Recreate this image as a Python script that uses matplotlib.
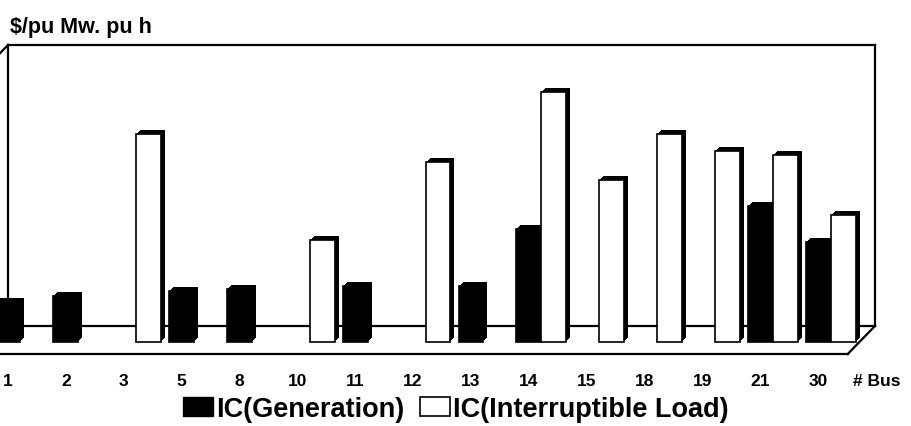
import matplotlib.pyplot as plt
import matplotlib.transforms as mtransforms
from matplotlib.patches import Patch

plt.rcParams['font.family'] = ['Liberation Sans', 'DejaVu Sans']
plt.rcParams['font.weight'] = 'bold'

# data (arbitrary $/pu Mw. pu h units)
buses = ['1', '2', '3', '5', '8', '10', '11', '12', '13', '14', '15', '18', '19', '21', '30']
ic_gen = [4.0, 4.6, 0, 5.1, 5.3, 0, 5.6, 0, 5.6, 11.3, 0, 0, 0, 13.6, 10.0]
ic_load = [0, 0, 20.8, 0, 0, 10.2, 0, 18.0, 0, 25.0, 16.2, 20.8, 19.1, 18.7, 12.7]

bar_w = 0.43
# pseudo 3d box
wall_top = 29.7
floor_front = -1.2
depth_x, depth_y = 0.47, 2.8
wall_left, wall_right = 0.0, 14.98

fig = plt.figure(figsize=(9.12, 4.27), dpi=100)
ax = fig.add_axes([0, 0, 1, 1])
ax.set_xlim(-0.138, 15.62)
ax.set_ylim(-8.4, 34.3)
ax.axis('off')

lw = 1.6
back = floor_front + depth_y
ax.plot([wall_left, wall_right], [wall_top, wall_top], color='black', lw=lw)
ax.plot([wall_right, wall_right], [wall_top, back], color='black', lw=lw)
ax.plot([wall_left, wall_left], [wall_top, back], color='black', lw=lw)
ax.plot([wall_left, wall_right], [back, back], color='black', lw=lw)
ax.plot([wall_left - depth_x, wall_right - depth_x], [floor_front, floor_front], color='black', lw=lw)
ax.plot([wall_right - depth_x, wall_right], [floor_front, back], color='black', lw=lw)
ax.plot([wall_left - depth_x, wall_left], [wall_top - depth_y, wall_top], color='black', lw=lw)

xg = [i for i, v in enumerate(ic_gen) if v > 0]
hg = [v for v in ic_gen if v > 0]
xl = [i + bar_w for i, v in enumerate(ic_load) if v > 0]
hl = [v for v in ic_load if v > 0]

# extruded depth: black copies stepped up/right
for d in [1, 2, 3, 4]:
    shift = mtransforms.offset_copy(ax.transData, fig=fig, x=d, y=d, units='dots')
    for xs, hs in [(xg, hg), (xl, hl)]:
        sh = ax.bar(xs, hs, width=bar_w, color='black', zorder=3)
        for p in sh:
            p.set_transform(shift)

ax.bar(xg, hg, width=bar_w, color='black', edgecolor='black', lw=1.2, zorder=4)
ax.bar(xl, hl, width=bar_w, color='white', edgecolor='black', lw=1.2, zorder=5)

for i, b in enumerate(buses):
    ax.text(i, -3.9, b, ha='center', va='center', fontsize=12.5, fontweight='bold')
ax.text((853 - 8) / 57.86, -3.9, '# Bus', ha='left', va='center', fontsize=12.5, fontweight='bold')

ax.text(0.011, 1 - 27 / 427, '$/pu Mw. pu h', transform=ax.transAxes,
        ha='left', va='center', fontsize=15.5, fontweight='bold')

handles = [Patch(facecolor='black', edgecolor='black'),
           Patch(facecolor='white', edgecolor='black', lw=1.2)]
ax.legend(handles, ['IC(Generation)', 'IC(Interruptible Load)'], ncol=2,
          loc='center', bbox_to_anchor=(0.5, 1 - 410 / 427), frameon=False,
          prop={'size': 19.5, 'weight': 'bold'}, handlelength=1.1, handleheight=0.75,
          handletextpad=0.1, columnspacing=0.6, borderpad=0)

fig.savefig('out.png', dpi=100)
